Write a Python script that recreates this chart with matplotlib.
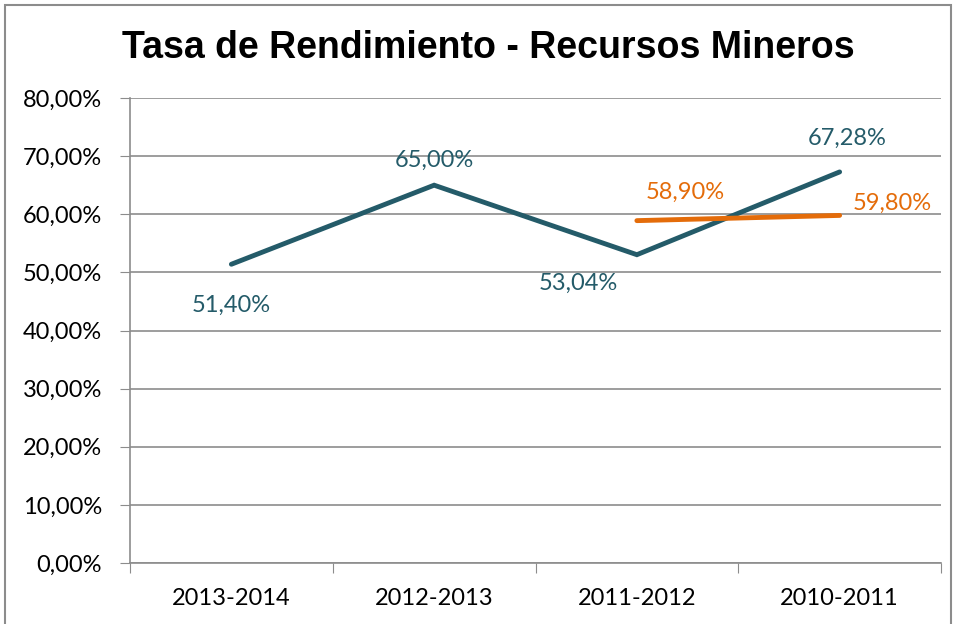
import matplotlib
matplotlib.use("Agg")
import matplotlib.pyplot as plt
from matplotlib.patches import Rectangle
from matplotlib.ticker import FuncFormatter, MultipleLocator

categories = ["2013-2014", "2012-2013", "2011-2012", "2010-2011"]
serie_a = [51.40, 65.00, 53.04, 67.28]
serie_b = [None, None, 58.90, 59.80]
labels_a = ["51,40%", "65,00%", "53,04%", "67,28%"]
labels_b = [None, None, "58,90%", "59,80%"]

teal = "#245B69"
orange = "#E46C0A"
grid = "#8C8C8C"
font = "Lato"
fs = 17

fig = plt.figure(figsize=(9.56, 6.24), dpi=100)
fig.patches.append(Rectangle((5/956, -0.05), 946/956, 1.05 - 5/624, transform=fig.transFigure,
                             fill=False, edgecolor="#8C8C8C", linewidth=1.5))
ax = fig.add_axes([130/956, 1 - 563/624, 811/956, 465/624])

x = list(range(len(categories)))
ax.plot(x, serie_a, color=teal, linewidth=3.5, solid_capstyle="round", solid_joinstyle="miter")
xb = [i for i, v in zip(x, serie_b) if v is not None]
yb = [v for v in serie_b if v is not None]
ax.plot(xb, yb, color=orange, linewidth=3.5, solid_capstyle="round")

ax.set_xlim(-0.5, len(categories) - 0.5)
ax.set_ylim(0, 80)
ax.yaxis.set_major_locator(MultipleLocator(10))
ax.yaxis.set_major_formatter(FuncFormatter(lambda v, p: f"{v:.2f}".replace(".", ",") + "%"))
ax.set_xticks([i - 0.5 for i in range(len(categories) + 1)])
ax.set_xticklabels([])
ax.set_xticks(x, minor=True)
ax.set_xticklabels(categories, minor=True)
ax.tick_params(axis="x", which="minor", length=0, pad=18, labelsize=fs)
ax.tick_params(axis="x", which="major", length=7, color=grid, direction="out")
ax.tick_params(axis="y", length=7, color=grid, labelsize=fs, pad=13)
for lab in ax.get_xticklabels(minor=True) + ax.get_yticklabels():
    lab.set_fontfamily(font)

ax.grid(axis="y", color=grid, linewidth=1.2)
ax.set_axisbelow(True)
for s in ["top", "right"]:
    ax.spines[s].set_visible(False)
ax.spines["left"].set_color(grid)
ax.spines["bottom"].set_color(grid)
ax.spines["left"].set_linewidth(1.2)
ax.spines["bottom"].set_linewidth(1.2)

offs_a = [(0, -41), (0, 25), (-59, -29), (8, 34)]
offs_b = [None, None, (48, 28), (53, 12)]
for i in range(len(categories)):
    dx, dy = offs_a[i]
    ax.annotate(labels_a[i], (x[i], serie_a[i]), xytext=(dx * 0.72, dy * 0.72),
                textcoords="offset points", ha="center", va="center",
                color=teal, fontsize=fs, fontfamily=font)
    if serie_b[i] is not None:
        dx, dy = offs_b[i]
        ax.annotate(labels_b[i], (x[i], serie_b[i]), xytext=(dx * 0.72, dy * 0.72),
                    textcoords="offset points", ha="center", va="center",
                    color=orange, fontsize=fs, fontfamily=font)

fig.text(488/956, 1 - 48/624, "Tasa de Rendimiento - Recursos Mineros", ha="center", va="center",
         fontsize=27, fontweight="bold", fontfamily="Liberation Sans")

fig.savefig("out.png", dpi=100)
